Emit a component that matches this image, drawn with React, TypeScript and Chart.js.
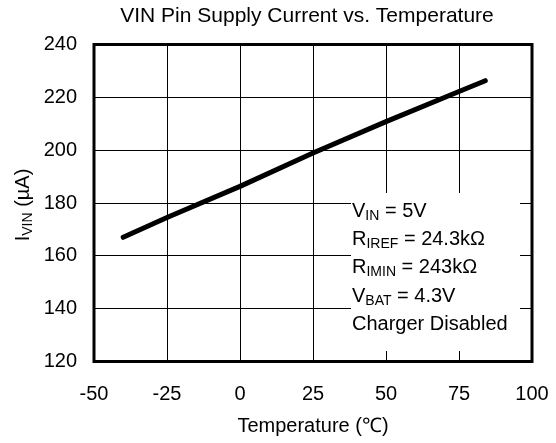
import React, { useEffect, useRef } from "react";
import { Chart, registerables } from "chart.js";

Chart.register(...registerables);

const temperatures = [-40, -25, 0, 25, 50, 75, 84];
const supplyCurrent = [167, 174.5, 186.3, 198.9, 210.8, 222.2, 226.3];
const xTicks = [-50, -25, 0, 25, 50, 75, 100];
const yTicks = [120, 140, 160, 180, 200, 220, 240];

const titleText = "VIN Pin Supply Current vs. Temperature";
const xTitle = "Temperature (\u2103)";
const yTitle = { main: "I", sub: "VIN", rest: " (\u00b5A)" };
const noteLines = [
  { main: "V", sub: "IN", rest: " = 5V" },
  { main: "R", sub: "IREF", rest: " = 24.3k\u03a9" },
  { main: "R", sub: "IMIN", rest: " = 243k\u03a9" },
  { main: "V", sub: "BAT", rest: " = 4.3V" },
  { main: "Charger Disabled", sub: "", rest: "" },
];

const FF = "'Liberation Sans', Arial, sans-serif";

function drawSubText(ctx: CanvasRenderingContext2D, x: number, y: number, seg: { main: string; sub: string; rest: string }) {
  ctx.font = `20px ${FF}`;
  ctx.fillText(seg.main, x, y);
  let cx = x + ctx.measureText(seg.main).width;
  if (seg.sub) {
    ctx.font = `14px ${FF}`;
    ctx.fillText(seg.sub, cx, y + 3);
    cx += ctx.measureText(seg.sub).width;
  }
  ctx.font = `20px ${FF}`;
  ctx.fillText(seg.rest, cx, y);
  return cx + ctx.measureText(seg.rest).width - x;
}

function measureSub(ctx: CanvasRenderingContext2D, seg: { main: string; sub: string; rest: string }) {
  ctx.font = `20px ${FF}`;
  let w = ctx.measureText(seg.main).width + ctx.measureText(seg.rest).width;
  ctx.font = `14px ${FF}`;
  w += ctx.measureText(seg.sub).width;
  return w;
}

const decorPlugin = {
  id: "decor",
  beforeDraw(chart: any) {
    const ctx = chart.ctx;
    ctx.save();
    ctx.fillStyle = "#fff";
    ctx.fillRect(0, 0, chart.width, chart.height);
    ctx.restore();
  },
  beforeDatasetsDraw(chart: any) {
    const ctx = chart.ctx;
    ctx.save();
    ctx.fillStyle = "#fff";
    ctx.fillRect(351, 193, 169, 158);
    ctx.fillStyle = "#000";
    ctx.textBaseline = "alphabetic";
    ctx.textAlign = "left";
    noteLines.forEach((seg, i) => {
      drawSubText(ctx, 352, 216.7 + i * 28.3, seg);
    });
    ctx.restore();
  },
  afterDraw(chart: any) {
    const ctx = chart.ctx;
    const a = chart.chartArea;
    ctx.save();
    ctx.strokeStyle = "#000";
    ctx.lineWidth = 3;
    ctx.strokeRect(a.left, a.top, a.right - a.left, a.bottom - a.top);
    ctx.fillStyle = "#000";
    ctx.textBaseline = "alphabetic";
    ctx.font = `21px ${FF}`;
    ctx.textAlign = "center";
    ctx.fillText(titleText, 307, 21.7);
    ctx.font = `20px ${FF}`;
    ctx.fillText(xTitle, (a.left + a.right) / 2, 431.7);
    ctx.translate(29, 205);
    ctx.rotate(-Math.PI / 2);
    ctx.textAlign = "left";
    const w = measureSub(ctx, yTitle);
    drawSubText(ctx, -w / 2, 0, yTitle);
    ctx.restore();
  },
};

export default function App() {
  const ref = useRef<HTMLCanvasElement | null>(null);
  useEffect(() => {
    if (!ref.current) return;
    const chart = new Chart(ref.current, {
      type: "line",
      data: {
        datasets: [
          {
            data: temperatures.map((t, i) => ({ x: t, y: supplyCurrent[i] })),
            borderColor: "#000",
            borderWidth: 5,
            borderCapStyle: "round",
            borderJoinStyle: "round",
            pointRadius: 0,
            tension: 0,
            fill: false,
          },
        ],
      },
      options: {
        responsive: false,
        animation: false,
        devicePixelRatio: 1,
        layout: { padding: { top: 44.5, right: 24, left: 0, bottom: 0 } },
        plugins: { legend: { display: false }, title: { display: false }, tooltip: { enabled: false } },
        scales: {
          x: {
            type: "linear",
            min: -50,
            max: 100,
            afterBuildTicks: (s: any) => {
              s.ticks = xTicks.map((v) => ({ value: v }));
            },
            afterFit: (s: any) => {
              s.height = 81.5;
              s.paddingLeft = 0;
              s.paddingRight = 0;
            },
            ticks: { color: "#000", font: { family: FF, size: 20 }, padding: 21, maxRotation: 0 },
            grid: { color: "#000", lineWidth: 1, drawTicks: false },
            border: { display: false },
          },
          y: {
            type: "linear",
            min: 120,
            max: 240,
            afterBuildTicks: (s: any) => {
              s.ticks = yTicks.map((v) => ({ value: v }));
            },
            afterFit: (s: any) => {
              s.width = 94;
              s.paddingTop = 0;
              s.paddingBottom = 0;
            },
            ticks: { color: "#000", font: { family: FF, size: 20 }, padding: 17 },
            grid: { color: "#000", lineWidth: 1, drawTicks: false },
            border: { display: false },
          },
        },
      },
      plugins: [decorPlugin],
    } as any);
    return () => chart.destroy();
  }, []);
  return (
    <div style={{ position: "fixed", left: 0, top: 0, width: 556, height: 443, background: "#fff" }}>
      <canvas ref={ref} width={556} height={443} style={{ display: "block", width: 556, height: 443 }} />
    </div>
  );
}
